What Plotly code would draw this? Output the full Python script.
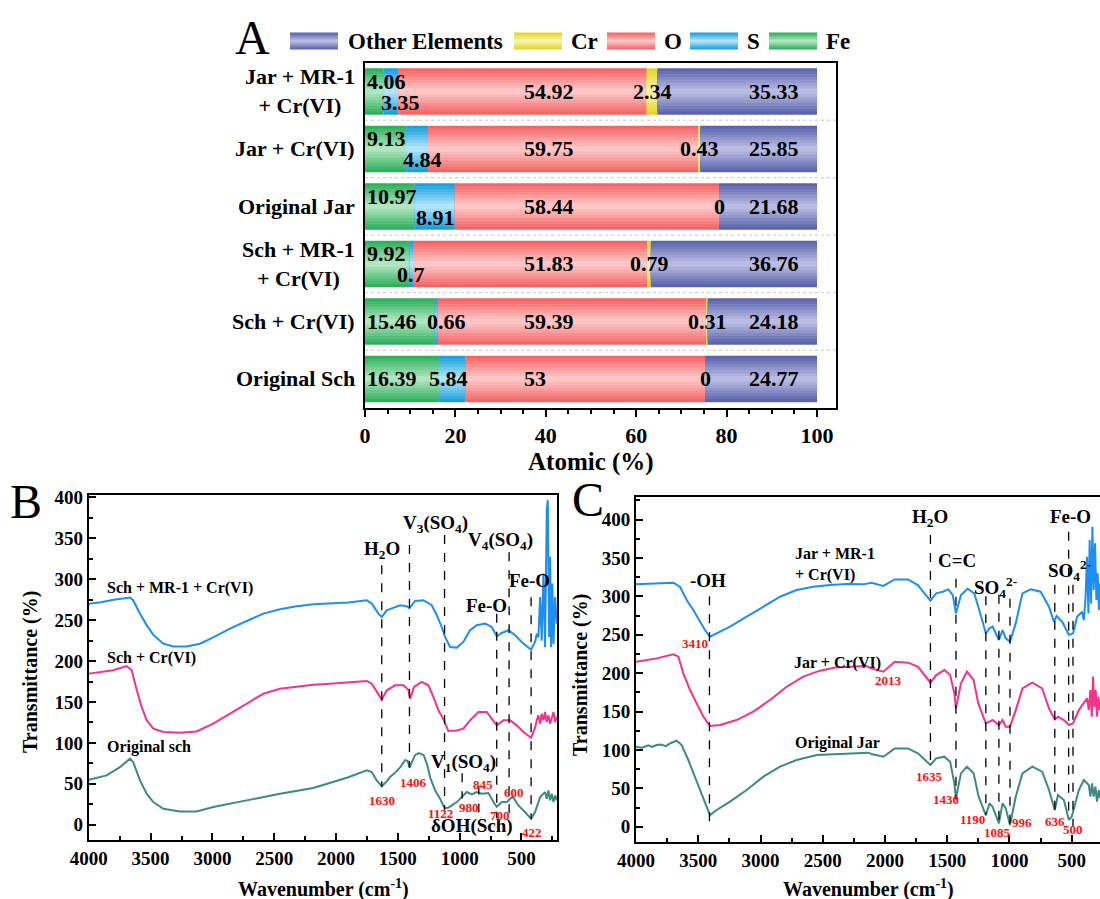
import plotly.graph_objects as go

FONT = "Liberation Serif"
W, H = 1100, 899

# ---------------- Panel A data (atomic %, bottom row first) ----------------
categories = ["Original Sch", "Sch + Cr(VI)", "Sch + MR-1<br>+ Cr(VI)",
              "Original Jar", "Jar + Cr(VI)", "Jar + MR-1<br>+ Cr(VI)"]
fe = [16.39, 15.46, 9.92, 10.97, 9.13, 4.06]
s = [5.84, 0.66, 0.70, 8.91, 4.84, 3.35]
o = [53.00, 59.39, 51.83, 58.44, 59.75, 54.92]
cr = [0.00, 0.31, 0.79, 0.00, 0.43, 2.34]
other = [24.77, 24.18, 36.76, 21.68, 25.85, 35.33]
element_names = ["Fe", "S", "O", "Cr", "Other Elements"]
legend_order = ["Other Elements", "Cr", "O", "S", "Fe"]

# ---------------- Panel B data (FTIR, schwertmannite) ----------------
b_blue_wn = [4000, 3900, 3800, 3700, 3667, 3641, 3586, 3532, 3478, 3397, 3316, 3208, 3100, 2993,
             2858, 2723, 2588, 2453, 2318, 2184, 2049, 1900, 1752, 1711, 1657, 1630, 1590, 1536,
             1482, 1428, 1406, 1361, 1293, 1226, 1185, 1145, 1118, 1077, 1023, 970, 916, 862, 794,
             740, 700, 659, 605, 551, 498, 422, 390, 376, 363, 349, 336, 322, 309, 295, 287, 276,
             268, 260, 250, 241, 228, 214]
b_blue_val = [270, 272, 275, 277, 277.7, 274.4, 258, 244, 232, 221.3, 218, 218, 221.3, 229,
              239.7, 249, 258, 263.4, 267, 269.5, 270.3, 271.5, 274.4, 270.3, 258, 254, 262, 265.4,
              268.3, 267, 264.5, 273.5, 274.4, 268.3, 256, 241.7, 229.5, 217.3, 216.5, 223.4, 237.7,
              243.8, 245.8, 241.7, 230.3, 234.4, 237.7, 231.6, 223.4, 214, 223.4, 233.6, 229, 278.4,
              225, 307, 217, 384.5, 396.7, 229.5, 327.4, 217, 294.8, 221, 278.4, 245.8]
b_pink_wn = [4000, 3802, 3694, 3653, 3612, 3572, 3532, 3478, 3397, 3262, 3128, 2993, 2858, 2723,
             2588, 2453, 2318, 2184, 2049, 1900, 1752, 1711, 1657, 1630, 1590, 1522, 1455, 1415,
             1400, 1369, 1307, 1253, 1212, 1172, 1126, 1091, 1023, 970, 916, 848, 781, 732, 700,
             646, 592, 538, 484, 422, 390, 376, 363, 349, 336, 322, 309, 295, 282, 268, 255, 241,
             228, 214]
b_pink_val = [184.7, 188.8, 194, 188.8, 164.4, 144, 127.6, 117.4, 113.3, 112.5, 114, 123.5, 135.7,
              148, 160.2, 166.3, 169.2, 171.2, 172.4, 174, 175.7, 172.4, 158.2, 152.9, 164.3, 170.4,
              170.4, 165.1, 154.1, 168.4, 174.5, 170.4, 156.1, 139.8, 127.6, 114.5, 115.3, 117.4,
              127.6, 137.8, 137.8, 127.6, 121.5, 127.6, 127.6, 121.5, 113.3, 106.4, 118.6, 127.6,
              133.7, 123.5, 135.7, 127.6, 137.8, 125.6, 133.7, 123.5, 131.7, 137.8, 125.6, 131.7]
b_teal_wn = [4000, 3855, 3748, 3667, 3641, 3586, 3532, 3478, 3397, 3262, 3128, 2993, 2723, 2453,
             2184, 2049, 1900, 1752, 1711, 1671, 1630, 1590, 1563, 1520, 1482, 1440, 1420, 1406,
             1385, 1361, 1330, 1290, 1260, 1239, 1199, 1158, 1122, 1090, 1064, 1023, 983, 960, 943,
             902, 862, 821, 767, 727, 700, 659, 619, 570, 525, 471, 422, 390, 349, 309, 295, 282,
             268, 255, 241, 228, 214]
b_teal_val = [55, 60.3, 70.5, 80.7, 76.6, 54.2, 37.9, 27.7, 19.6, 16.3, 16.3, 21.6, 29.8, 37.9,
              44.9, 51, 58, 66.4, 64.4, 54.2, 47, 53, 58.3, 64, 70, 79, 78, 70, 78, 85, 87.5, 85,
              72, 58, 42, 31.8, 20, 21, 23.6, 27.7, 33.8, 37, 40, 37, 40, 38, 38.7, 27.7, 22, 27.7,
              27.7, 34.6, 23.6, 15.5, 7.3, 15.5, 33.8, 39.9, 31.8, 42, 29.8, 37.9, 27.7, 35.9, 29.8]
b_names = ["Sch + MR-1 + Cr(VI)", "Sch + Cr(VI)", "Original sch"]
b_peaks = [1630, 1406, 1122, 980, 845, 700, 600, 422]

# ---------------- Panel C data (FTIR, jarosite) ----------------
c_blue_wn = [4000, 3834, 3700, 3647, 3593, 3540, 3486, 3446, 3406, 3352, 3245, 3111, 2977, 2843,
             2710, 2576, 2442, 2308, 2174, 2109, 2013, 1922, 1816, 1736, 1683, 1635, 1589, 1536,
             1491, 1456, 1430, 1390, 1336, 1283, 1243, 1190, 1160, 1135, 1085, 1056, 1030, 996, 950,
             896, 830, 750, 683, 643, 622, 577, 523, 489, 457, 417, 403, 390, 377, 366, 356, 345,
             334, 324, 313, 302, 292, 281, 273]
c_blue_val = [315.6, 316.9, 317.7, 312.5, 295.2, 282.2, 267, 256.1, 247.4, 251.8, 260.5, 273.5,
              286.5, 299.5, 308.2, 312.5, 314.7, 316, 315.6, 317.7, 313.5, 322, 322, 314.7, 303.9,
              294.3, 303.9, 306, 309.1, 301.7, 277.8, 301.7, 309.9, 303.9, 282.2, 251.8, 258.3,
              260.5, 243.1, 256.1, 245.3, 240.9, 264.8, 303.9, 309.1, 306, 286.5, 267, 274.3, 267,
              249.6, 251.8, 273.5, 280, 269.1, 295.2, 351.6, 277.8, 373.3, 290.8, 390.7, 308.2, 369,
              295.2, 329.9, 282.2, 316.9]
c_pink_wn = [4000, 3834, 3700, 3660, 3620, 3566, 3513, 3459, 3406, 3325, 3192, 3058, 2924, 2790,
             2656, 2522, 2388, 2255, 2148, 2109, 2013, 1922, 1816, 1736, 1683, 1635, 1589, 1523,
             1477, 1443, 1430, 1390, 1342, 1288, 1251, 1190, 1160, 1136, 1085, 1056, 1030, 996, 950,
             896, 817, 737, 683, 636, 611, 563, 523, 489, 443, 403, 377, 363, 350, 339, 329, 318,
             308, 297, 286, 276]
c_pink_val = [214.9, 219.2, 224.4, 221.4, 199.7, 178, 160.6, 143.3, 131.1, 132.4, 138.9, 149.8,
              165, 182.3, 195.4, 203.2, 207.5, 208.4, 209.2, 206.2, 201.9, 214.9, 213.6, 208.4,
              197.5, 187.5, 197.5, 204, 197.5, 173.7, 154.1, 186.7, 201.9, 191, 160.6, 134.6, 136.8,
              138.9, 132.4, 138.9, 130.3, 130.3, 151.9, 180.2, 187.5, 180.2, 154.1, 139.8, 143.3,
              138.9, 132.4, 134.6, 151.9, 160.6, 167.1, 151.9, 178, 143.3, 195.4, 156.3, 178, 143.3,
              169.3, 151.9]
c_teal_wn = [4000, 3950, 3900, 3870, 3834, 3800, 3760, 3720, 3673, 3633, 3580, 3526, 3473, 3433,
             3406, 3352, 3245, 3111, 2977, 2843, 2710, 2549, 2388, 2228, 2134, 2109, 2013, 1922,
             1816, 1736, 1683, 1635, 1589, 1523, 1477, 1443, 1430, 1390, 1342, 1288, 1248, 1190,
             1160, 1136, 1085, 1056, 1030, 996, 950, 896, 817, 737, 683, 636, 611, 563, 523, 500,
             443, 403, 363, 350, 337, 324, 310, 297, 284, 273]
c_teal_val = [104.2, 103, 106, 104, 106.4, 107, 105, 109, 112, 106.4, 86.9, 65.2, 43.5, 26.1,
              15.2, 21.8, 32.6, 47.8, 65.2, 78.2, 86.9, 93.4, 94.7, 95.5, 96.4, 94.7, 91.2, 102,
              102, 95.5, 86.9, 80.4, 89, 91.2, 84.7, 56.5, 37, 69.5, 78.2, 69.5, 39.1, 15.2, 30.4,
              26.1, 4.4, 30.4, 23.9, 2.2, 39.1, 69.5, 78.2, 71.7, 47.8, 21.8, 41.3, 34.8, 8.8, 13.1,
              47.8, 60.8, 54.3, 39.1, 56.5, 39.1, 52.1, 32.6, 47.8, 37]
c_names = ["Jar + MR-1<br>+ Cr(VI)", "Jar + Cr(VI)", "Original Jar"]
c_peaks = [3410, 1635, 1430, 1190, 1085, 996, 636, 525, 490]

# ---------------- styling / layout helpers ----------------
def px_x(p):
    return p / W

def px_y(p):
    return 1 - p / H

def lerp(c1, c2, t):
    return "rgb(%d,%d,%d)" % tuple(round(a + (b - a) * t) for a, b in zip(c1, c2))

edge_col = {"Fe": (46, 176, 92), "S": (28, 160, 222), "O": (244, 102, 102),
            "Cr": (228, 214, 40), "Other Elements": (92, 100, 172)}
mid_col = {"Fe": (176, 230, 190), "S": (176, 228, 248), "O": (253, 198, 198),
           "Cr": (248, 244, 172), "Other Elements": (184, 188, 226)}
NL = 8
BAR_W = 0.81

fig = go.Figure()

values = {"Fe": fe, "S": s, "O": o, "Cr": cr, "Other Elements": other}
bases = {}
run = [0.0] * len(categories)
for name in element_names:
    bases[name] = list(run)
    run = [r + v for r, v in zip(run, values[name])]

for name in element_names:
    for k in range(NL):
        t = k / (NL - 1)
        fig.add_trace(go.Bar(
            y=categories, x=values[name], base=bases[name], orientation="h",
            width=BAR_W * (1 - k / NL), marker=dict(color=lerp(edge_col[name], mid_col[name], t),
                                                   line=dict(width=0)),
            opacity=1, showlegend=False, hoverinfo="skip", xaxis="x", yaxis="y"))

ann = []
catfont = dict(family=FONT, size=22, color="black", weight="bold")
valfont = dict(family=FONT, size=22, color="black", weight="bold")
legfont = dict(family=FONT, size=23, color="black", weight="bold")

# category labels
for c in categories:
    ann.append(dict(x=px_x(357), xref="paper", y=c, yref="y", text=c, showarrow=False,
                    xanchor="right", yanchor="middle", align="center", font=catfont))

# value labels
stagger = [0, 0, 1, 1, 1, 1]
s_label_x = [18.5, 18.1, 10.1, 15.5, 12.7, 7.8]
for i, c in enumerate(categories):
    up = 10 if stagger[i] else 0
    dn = -11 if stagger[i] else 0
    ann.append(dict(x=0, y=c, xref="x", yref="y", text=f"{fe[i]:g}", showarrow=False,
                    xanchor="left", yshift=up, font=valfont))
    ann.append(dict(x=s_label_x[i], y=c, xref="x", yref="y", text=f"{s[i]:g}", showarrow=False,
                    xanchor="center", yshift=dn, font=valfont))
    ann.append(dict(x=34.7, y=c, xref="x", yref="y", text=f"{o[i]:g}", showarrow=False,
                    xanchor="left", font=valfont))
    ann.append(dict(x=bases["Cr"][i] + cr[i] / 2, y=c, xref="x", yref="y", text=f"{cr[i]:g}",
                    showarrow=False, xanchor="center", font=valfont))
    ann.append(dict(x=84.5, y=c, xref="x", yref="y", text=f"{other[i]:g}", showarrow=False,
                    xanchor="left", font=valfont))

shapes = []
# dotted separators between rows
for i in range(len(categories) - 1):
    shapes.append(dict(type="line", xref="x domain", x0=0, x1=1, yref="y", y0=i + 0.5, y1=i + 0.5,
                       line=dict(color="#c8c8c8", width=1, dash="dot"), layer="below"))

# legend (custom gradient swatches)
sw_left = [290, 514, 607, 690, 769]
txt_left = [346, 569, 662, 745, 824]
sw_w, sw_h, ly = 48, 17, 41
for j, name in enumerate(legend_order):
    for k in range(NL):
        t = k / (NL - 1)
        hh = sw_h * (1 - k / NL) / 2
        shapes.append(dict(type="rect", xref="paper", yref="paper",
                           x0=px_x(sw_left[j]), x1=px_x(sw_left[j] + sw_w),
                           y0=px_y(ly + hh), y1=px_y(ly - hh),
                           fillcolor=lerp(edge_col[name], mid_col[name], t), line=dict(width=0)))
    ann.append(dict(x=px_x(txt_left[j]), y=px_y(ly), xref="paper", yref="paper", text=name,
                    showarrow=False, xanchor="left", yanchor="middle", font=legfont))

ann.append(dict(x=px_x(591), y=px_y(462), xref="paper", yref="paper", text="Atomic (%)",
                showarrow=False, font=dict(family=FONT, size=25, color="black", weight="bold")))

# panel letters
for letter, (lx, lyy) in zip("ABC", [(252, 37), (26, 501), (588, 499)]):
    ann.append(dict(x=px_x(lx), y=px_y(lyy), xref="paper", yref="paper", text=letter,
                    showarrow=False, font=dict(family=FONT, size=48, color="black")))

# ---------------- Panels B & C spectra ----------------
BLUE, PINK, TEAL = "#1E8EF0", "#F5328C", "#3E8A82"
for wn, val, col in [(b_blue_wn, b_blue_val, BLUE), (b_pink_wn, b_pink_val, PINK),
                     (b_teal_wn, b_teal_val, TEAL)]:
    fig.add_trace(go.Scatter(x=wn, y=val, mode="lines", line=dict(color=col, width=2),
                             showlegend=False, hoverinfo="skip", xaxis="x2", yaxis="y3"))
for wn, val, col in [(c_blue_wn, c_blue_val, BLUE), (c_pink_wn, c_pink_val, PINK),
                     (c_teal_wn, c_teal_val, TEAL)]:
    fig.add_trace(go.Scatter(x=wn, y=val, mode="lines", line=dict(color=col, width=2),
                             showlegend=False, hoverinfo="skip", xaxis="x3", yaxis="y4"))

# dashed peak guide lines (vertical extent = layout)
b_line_top = [317, 342, 354, 63, 48, 258, 333, 278]
b_line_bot = [46, 70, 17, 32, 8, 8, 5, 7]
for wv, y0, y1 in zip(b_peaks, b_line_top, b_line_bot):
    fig.add_trace(go.Scatter(x=[wv, wv], y=[y0, y1], mode="lines",
                             line=dict(color="black", width=1.3, dash="dash"),
                             showlegend=False, hoverinfo="skip", xaxis="x2", yaxis="y3"))
c_line_top = [300, 380, 323, 300, 302, 297, 315, 384, 315]
c_line_bot = [-2, 80, 35, 15, 4, 2, 20, 9, 0]
for wv, y0, y1 in zip(c_peaks, c_line_top, c_line_bot):
    fig.add_trace(go.Scatter(x=[wv, wv], y=[y0, y1], mode="lines",
                             line=dict(color="black", width=1.3, dash="dash"),
                             showlegend=False, hoverinfo="skip", xaxis="x3", yaxis="y4"))

lab = dict(family=FONT, size=16, color="black", weight="bold")
big = dict(family=FONT, size=19, color="black", weight="bold")
red = dict(family=FONT, size=13, color="#FF1010", weight="bold")

# B texts
for name, yy in zip(b_names, [289.4, 203.4, 94.9]):
    ann.append(dict(x=3869, y=yy, xref="x2", yref="y3", text=name, showarrow=False,
                    xanchor="left", font=lab))
for txt, xx, yy in [("H<sub>2</sub>O", 1630, 336), ("V<sub>3</sub>(SO<sub>4</sub>)", 1199, 368),
                    ("V<sub>4</sub>(SO<sub>4</sub>)", 673, 347), ("Fe-O", 431, 299),
                    ("Fe-O", 782, 268), ("V<sub>1</sub>(SO<sub>4</sub>)", 970, 75),
                    ("δOH(Sch)", 902, -1)]:
    ann.append(dict(x=xx, y=yy, xref="x2", yref="y3", text=txt, showarrow=False, font=big))
for pk, xx, yy in zip(b_peaks, [1630, 1374, 1153, 923, 815, 672, 559, 413],
                      [29.7, 52.1, 13.5, 21.5, 49.3, 11.4, 39.9, -9]):
    ann.append(dict(x=xx, y=yy, xref="x2", yref="y3", text=str(pk), showarrow=False, font=red))

# C texts
for name, xx, yy in zip(c_names, [2737, 2749, 2737], [341, 212.8, 108.6]):
    ann.append(dict(x=xx, y=yy, xref="x3", yref="y4", text=name, showarrow=False,
                    xanchor="left", align="left", font=lab))
for txt, xx, yy in [("-OH", 3419, 321), ("H<sub>2</sub>O", 1635, 402), ("C=C", 1422, 347),
                    ("SO<sub>4</sub><sup>2-</sup>", 1115, 312), ("SO<sub>4</sub><sup>2-</sup>", 515, 334),
                    ("Fe-O", 512, 404)]:
    ann.append(dict(x=xx, y=yy, xref="x3", yref="y4", text=txt, showarrow=False, font=big))
for txt, xx, yy in [("3410", 3526, 238), ("2013", 1975, 190), ("1635", 1643, 65),
                    ("1430", 1510, 36), ("1190", 1296, 9), ("1085", 1096, -8), ("996", 896, 5),
                    ("636", 638, 7), ("500", 489, -3)]:
    ann.append(dict(x=xx, y=yy, xref="x3", yref="y4", text=txt, showarrow=False, font=red))

# axis titles for B/C
tfont = dict(family=FONT, size=20, color="black", weight="bold")
ann.append(dict(x=px_x(323), y=px_y(888), xref="paper", yref="paper",
                text="Wavenumber (cm<sup>-1</sup>)", showarrow=False, font=tfont))
ann.append(dict(x=px_x(868), y=px_y(888), xref="paper", yref="paper",
                text="Wavenumber (cm<sup>-1</sup>)", showarrow=False, font=tfont))
ann.append(dict(x=px_x(30), y=px_y(672), xref="paper", yref="paper", text="Transmittance (%)",
                textangle=-90, showarrow=False, font=tfont))
ann.append(dict(x=px_x(580), y=px_y(675), xref="paper", yref="paper", text="Transmittance (%)",
                textangle=-90, showarrow=False, font=tfont))

for a in ann:
    a.setdefault("xanchor", "center")
    a.setdefault("yanchor", "middle")

tick_font = dict(family=FONT, size=19, color="black", weight="bold")
spec_x = dict(showline=True, linewidth=2, linecolor="black", mirror=True, ticks="inside",
              ticklen=7, tickwidth=1.5, tickcolor="black", dtick=500, tick0=0,
              minor=dict(dtick=250, ticks="inside", ticklen=4, tickcolor="black"),
              showgrid=False, zeroline=False, tickfont=tick_font)
spec_y = dict(showline=True, linewidth=2, linecolor="black", ticks="inside", ticklen=7,
              tickwidth=1.5, tickcolor="black", dtick=50, tick0=0,
              minor=dict(dtick=25, ticks="inside", ticklen=4, tickcolor="black"),
              showgrid=False, zeroline=False, tickfont=tick_font)

fig.update_layout(
    width=W, height=H, margin=dict(l=0, r=0, t=0, b=0, autoexpand=False),
    paper_bgcolor="white", plot_bgcolor="white", barmode="overlay", showlegend=False,
    xaxis=dict(domain=[px_x(365), px_x(836)], range=[0, 104.2], anchor="y",
               showline=True, linewidth=2, linecolor="black", mirror=True,
               ticks="outside", ticklen=7, tickwidth=1.5, tickcolor="black", dtick=20,
               minor=dict(dtick=5, ticks="outside", ticklen=4, tickcolor="black"),
               showgrid=False, zeroline=False, tickfont=dict(family=FONT, size=22, color="black",
                                                            weight="bold")),
    yaxis=dict(domain=[px_y(407.7), px_y(62.7)], type="category", categoryorder="array",
               categoryarray=categories, range=[-0.5, 5.5], anchor="x", showline=True,
               linewidth=2, linecolor="black", mirror=True, ticks="", showticklabels=False,
               showgrid=False, zeroline=False),
    xaxis2=dict(domain=[px_x(88.8), px_x(557.3)], range=[4000, 210], anchor="y3", **spec_x),
    yaxis3=dict(domain=[px_y(840.3), px_y(495)], range=[-19, 403], anchor="x2", mirror=True,
                **spec_y),
    xaxis3=dict(domain=[px_x(636), 1.0], range=[4000, 273], anchor="y4", **spec_x),
    yaxis4=dict(domain=[px_y(841.7), px_y(496.5)], range=[-19.5, 430], anchor="x3",
                mirror=False, **spec_y),
    annotations=ann, shapes=shapes,
)

fig.write_html("out.html", config={"displayModeBar": False},
               post_script="document.body.style.margin='0px';document.body.style.overflow='hidden';")
